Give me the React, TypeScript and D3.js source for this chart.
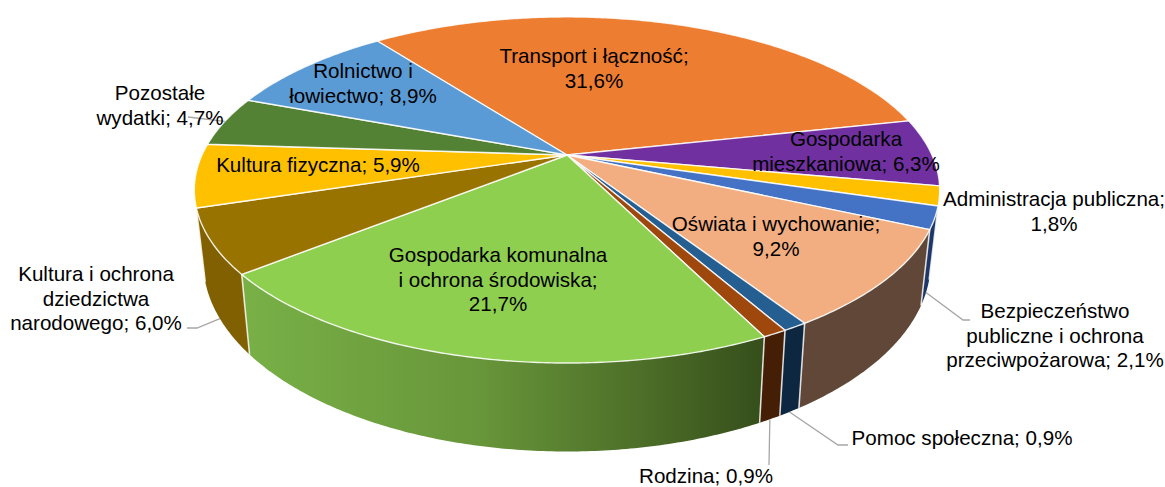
import React from 'react';
import * as d3 from 'd3';

const categories = [
  'Transport i łączność',
  'Gospodarka mieszkaniowa',
  'Administracja publiczna',
  'Bezpieczeństwo publiczne i ochrona przeciwpożarowa',
  'Oświata i wychowanie',
  'Pomoc społeczna',
  'Rodzina',
  'Gospodarka komunalna i ochrona środowiska',
  'Kultura i ochrona dziedzictwa narodowego',
  'Kultura fizyczna',
  'Pozostałe wydatki',
  'Rolnictwo i łowiectwo',
];
const values = [31.6, 6.3, 1.8, 2.1, 9.2, 0.9, 0.9, 21.7, 6.0, 5.9, 4.7, 8.9];
const topColors = [
  '#ED7D31', '#7030A0', '#FFC000', '#4472C4', '#F2AE80', '#255E91',
  '#9E480E', '#8FCF50', '#997300', '#FFC000', '#548235', '#5B9BD5',
];
const wallColors = [
  '#ED7D31', '#7030A0', '#FFC000', '#1D3768', '#604738', '#0D2740',
  '#451F05', 'url(#greenWall)', '#806000', '#FFC000', '#548235', '#5B9BD5',
];

// line breaks of each label
const labelLines = [
  ['Transport i łączność;', '31,6%'],
  ['Gospodarka', 'mieszkaniowa; 6,3%'],
  ['Administracja publiczna;', '1,8%'],
  ['Bezpieczeństwo', 'publiczne i ochrona', 'przeciwpożarowa; 2,1%'],
  ['Oświata i wychowanie;', '9,2%'],
  ['Pomoc społeczna; 0,9%'],
  ['Rodzina; 0,9%'],
  ['Gospodarka komunalna', 'i ochrona środowiska;', '21,7%'],
  ['Kultura i ochrona', 'dziedzictwa', 'narodowego; 6,0%'],
  ['Kultura fizyczna; 5,9%'],
  ['Pozostałe', 'wydatki; 4,7%'],
  ['Rolnictwo i', 'łowiectwo; 8,9%'],
];
// centre x and first baseline of each label
const labelPos = [
  [594, 63], [846, 146], [1054, 206], [1055, 318], [776, 231], [962, 445],
  [706, 482.5], [498, 262], [96, 281], [318, 172], [160, 100], [363, 78],
];
// leader lines: elbow points after the point on the rim, by slice index
const leaders: Record<number, { rim: 'top' | 'bottom'; pts: number[][] }> = {
  3: { rim: 'bottom', pts: [[963, 320], [970, 320]] },
  5: { rim: 'bottom', pts: [[838, 445], [848, 445]] },
  6: { rim: 'bottom', pts: [[769, 465]] },
  8: { rim: 'bottom', pts: [[197, 328], [187, 328]] },
  10: { rim: 'top', pts: [[188, 117]] },
};

const width = 1165;
const height = 487;
const cx = 567;
const cy = 155;
const R = 365;
const vert = 166;
const persp = 0.202;
const startDeg = -37.3;
const wallFrom = 105;
const wallTo = 254;

const toRad = d3.scaleLinear().domain([0, 180]).range([0, Math.PI]);

// circle of the pie in perspective, with a small skew of the view on the right side
const project = (angle: number): [number, number] => {
  const a = angle + toRad(0.6 * (1 + Math.cos(angle - toRad(97))));
  const X = Math.sin(a);
  const Y = Math.cos(a);
  const w = 1 + persp * Y;
  return [cx + (R * X) / w, cy - (vert * Y) / w];
};
// the same point on the lower rim
const lower = ([x, y]: [number, number]): [number, number] => [
  cx + (x - cx) * 0.976,
  y + 54 + 0.095 * y,
];

const arcPoints = (a0: number, a1: number) => {
  const n = Math.max(2, Math.ceil((a1 - a0) / 0.01));
  return d3.range(n + 1).map((i) => project(a0 + ((a1 - a0) * i) / n));
};

const line = d3.line();
const arcs = d3
  .pie<number>()
  .sort(null)
  .startAngle(toRad(startDeg))
  .endAngle(toRad(startDeg + 360))(values);

export default function App() {
  const from = toRad(wallFrom);
  const to = toRad(wallTo);
  const walls = arcs.filter((d) => d.endAngle > from && d.startAngle < to);
  return (
    <svg
      width={width}
      height={height}
      style={{ position: 'absolute', left: 0, top: 0, background: '#fff' }}
      fontFamily="'Liberation Sans', Arial, sans-serif"
      fontSize={20.6}
    >
      <defs>
        <linearGradient id="greenWall" gradientUnits="userSpaceOnUse" x1={244} y1={0} x2={765} y2={0}>
          <stop offset="0" stopColor="#78B046" />
          <stop offset="0.45" stopColor="#68963A" />
          <stop offset="0.75" stopColor="#4E7029" />
          <stop offset="1" stopColor="#354E1B" />
        </linearGradient>
      </defs>

      {walls.map((d) => {
        const a0 = Math.max(d.startAngle, from);
        const a1 = Math.min(d.endAngle, to);
        const upper = arcPoints(a0, a1);
        const low = upper.map(lower).reverse();
        return (
          <path key={d.index} d={line([...upper, ...low]) + 'Z'} fill={wallColors[d.index]} />
        );
      })}
      {walls.slice(1).map((d) => {
        const p = project(d.startAngle);
        return (
          <path key={d.index} d={line([p, lower(p)]) ?? ''} stroke="#fff" strokeOpacity={0.8} strokeWidth={1.6} fill="none" />
        );
      })}

      {arcs.map((d) => {
        const pts = arcPoints(d.startAngle, d.endAngle);
        return (
          <path
            key={d.index}
            d={line([[cx, cy], ...pts]) + 'Z'}
            fill={topColors[d.index]}
            stroke="#fff"
            strokeOpacity={0.85}
            strokeWidth={1.4}
            strokeLinejoin="round"
          />
        );
      })}

      {Object.entries(leaders).map(([k, l]) => {
        const d = arcs[+k];
        const rimPoint = project((d.startAngle + d.endAngle) / 2);
        const start = l.rim === 'bottom' ? lower(rimPoint) : rimPoint;
        return (
          <path
            key={k}
            d={line([start, ...(l.pts as [number, number][])]) ?? ''}
            fill="none"
            stroke="#A6A6A6"
            strokeWidth={1.3}
          />
        );
      })}

      {categories.map((c, i) => (
        <text key={c} textAnchor="middle" fill="#000" x={labelPos[i][0]} y={labelPos[i][1]}>
          {labelLines[i].map((t, j) => (
            <tspan key={j} x={labelPos[i][0]} dy={j ? 24.5 : 0}>
              {t}
            </tspan>
          ))}
        </text>
      ))}
    </svg>
  );
}
